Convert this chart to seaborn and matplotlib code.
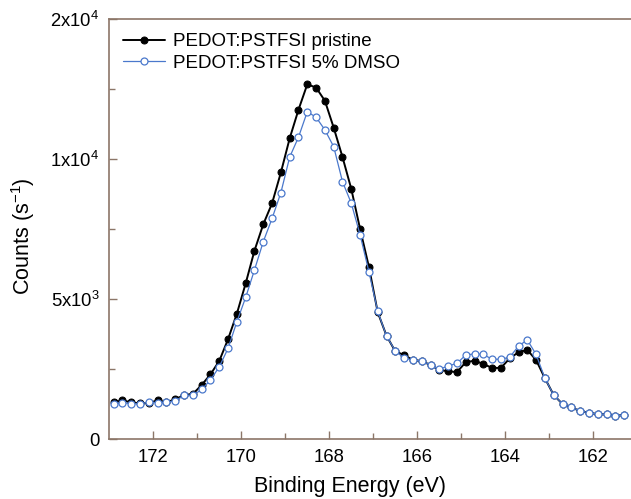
import numpy as np
import pandas as pd
import matplotlib
matplotlib.use("Agg")
import matplotlib.pyplot as plt
from matplotlib.ticker import FixedLocator, FixedFormatter
import seaborn as sns

# ==========================================
# DATA
# ==========================================
binding_energy = [
    172.9, 172.7, 172.5, 172.3, 172.1, 171.9, 171.7, 171.5, 171.3, 171.1,
    170.9, 170.7, 170.5, 170.3, 170.1, 169.9, 169.7, 169.5, 169.3, 169.1,
    168.9, 168.7, 168.5, 168.3, 168.1, 167.9, 167.7, 167.5, 167.3, 167.1,
    166.9, 166.7, 166.5, 166.3, 166.1, 165.9, 165.7, 165.5, 165.3, 165.1,
    164.9, 164.7, 164.5, 164.3, 164.1, 163.9, 163.7, 163.5, 163.3, 163.1,
    162.9, 162.7, 162.5, 162.3, 162.1, 161.9, 161.7, 161.5, 161.3,
]
counts_pristine = [
    1310, 1380, 1310, 1270, 1290, 1380, 1310, 1420, 1570, 1610,
    1930, 2310, 2790, 3570, 4480, 5560, 6730, 7670, 8420, 9520,
    10740, 11760, 12670, 12550, 12080, 11120, 10070, 8930, 7500, 6150,
    4530, 3690, 3130, 3000, 2820, 2790, 2640, 2470, 2420, 2390,
    2740, 2800, 2680, 2540, 2540, 2880, 3100, 3180, 2820, 2170,
    1570, 1250, 1130, 1000, 940, 890, 880, 830, 860,
]
counts_dmso = [
    1240, 1300, 1260, 1260, 1310, 1300, 1320, 1360, 1560, 1560,
    1770, 2110, 2580, 3240, 4190, 5060, 6040, 7050, 7880, 8800,
    10070, 10780, 11690, 11490, 11040, 10440, 9190, 8420, 7290, 5980,
    4560, 3680, 3150, 2890, 2820, 2790, 2640, 2490, 2610, 2700,
    3000, 3040, 3020, 2850, 2850, 2920, 3320, 3540, 3020, 2170,
    1570, 1250, 1130, 1000, 940, 890, 880, 830, 860,
]
series_names = ["PEDOT:PSTFSI pristine", "PEDOT:PSTFSI 5% DMSO"]

y_ticks = [0, 5000, 10000, 15000]
y_tick_labels = ["0", r"5x10$^{3}$", r"1x10$^{4}$", r"2x10$^{4}$"]
x_ticks = [172, 170, 168, 166, 164, 162]

df = pd.DataFrame({
    "energy": binding_energy * 2,
    "counts": counts_pristine + counts_dmso,
    "sample": [series_names[0]] * len(binding_energy) + [series_names[1]] * len(binding_energy),
})

# ==========================================
# STYLE
# ==========================================
sns.set_style("ticks")
plt.rcParams["font.family"] = ["Liberation Sans", "DejaVu Sans"]
plt.rcParams["mathtext.fontset"] = "custom"
plt.rcParams["mathtext.rm"] = "Liberation Sans"
plt.rcParams["mathtext.it"] = "Liberation Sans:italic"
plt.rcParams["text.color"] = "black"
plt.rcParams["axes.labelcolor"] = "black"
plt.rcParams["xtick.labelcolor"] = "black"
plt.rcParams["ytick.labelcolor"] = "black"

axis_col = "#8c7668"
blue = "#4a78cc"

fig = plt.figure(figsize=(6.31, 4.99), dpi=100)
ax = fig.add_axes([0.1732, 0.1202, 0.8368, 0.8417])

sns.lineplot(data=df[df["sample"] == series_names[0]], x="energy", y="counts",
             ax=ax, color="black", lw=1.4, marker="o", markersize=5,
             markerfacecolor="black", markeredgecolor="black",
             label=series_names[0], errorbar=None)
sns.lineplot(data=df[df["sample"] == series_names[1]], x="energy", y="counts",
             ax=ax, color=blue, lw=0.9, marker="o", markersize=5,
             markerfacecolor="white", markeredgecolor=blue, markeredgewidth=0.9,
             label=series_names[1], errorbar=None)

ax.set_xlim(173, 161)
ax.set_ylim(0, 15000)

ax.xaxis.set_major_locator(FixedLocator(x_ticks))
ax.xaxis.set_minor_locator(FixedLocator([171, 169, 167, 165, 163]))
ax.yaxis.set_major_locator(FixedLocator(y_ticks))
ax.yaxis.set_major_formatter(FixedFormatter(y_tick_labels))
ax.yaxis.set_minor_locator(FixedLocator([2500, 7500, 12500]))

ax.tick_params(which="major", direction="in", length=6, width=1, color=axis_col,
               labelsize=13.3, pad=7, top=False, right=False)
ax.tick_params(which="minor", direction="in", length=4, width=1, color=axis_col,
               top=False, right=False)
for side in ["left", "bottom", "top", "right"]:
    ax.spines[side].set_color(axis_col)
    ax.spines[side].set_linewidth(1.2)

ax.set_xlabel("Binding Energy (eV)", fontsize=15.5)
ax.xaxis.set_label_coords(0.456, -0.088)
ax.set_ylabel("Counts (s$^{-1}$)", fontsize=15.5)
ax.yaxis.set_label_coords(-0.137, 0.483)

ax.legend(loc="upper left", frameon=False, fontsize=13.5, handlelength=2.2,
          handletextpad=0.45, borderaxespad=0.35, labelspacing=0.25)

plt.savefig("out.png", dpi=100)
